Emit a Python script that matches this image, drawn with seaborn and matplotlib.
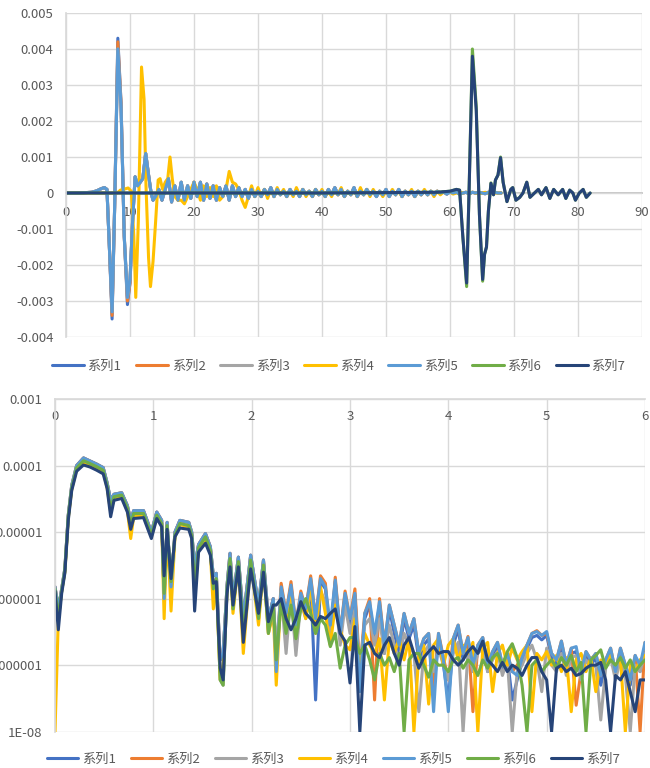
import numpy as np
import pandas as pd
import matplotlib
matplotlib.use('Agg')
import matplotlib.pyplot as plt
from matplotlib.lines import Line2D
from matplotlib.ticker import NullLocator
import seaborn as sns

# ─────────────────────────────────────────
# series names / Excel office colours
# ─────────────────────────────────────────
SERIES = ['系列1', '系列2', '系列3', '系列4', '系列5', '系列6', '系列7']
COLORS = ['#4472C4', '#ED7D31', '#A5A5A5', '#FFC000', '#5B9BD5', '#70AD47', '#264478']

# ─────────────────────────────────────────
# top chart: time signals
# ─────────────────────────────────────────
pulse_x = [0, 2, 4, 4.8, 5.5, 6.0, 6.4, 6.8, 7.2, 7.6, 8.1, 8.6, 9.1, 9.6, 10.0, 10.4,
           10.8, 11.2, 11.6, 12.0, 12.45, 12.9, 13.3, 13.6]
s1_pulse = [0, 0, 0.00002, 0.00006, 0.00012, 0.00015, 0.0001, -0.0016, -0.0035, -0.0004,
            0.0043, 0.0025, -0.0012, -0.0031, -0.0025, -0.0008, 0.00045, 0.0002, 0.0003,
            0.0004, 0.0011, 0.0005, 0.0, -0.0002]
s2_pulse = [0, 0, 0.00002, 0.00006, 0.00012, 0.00015, 0.0001, -0.0016, -0.0034, -0.0004,
            0.0042, 0.0025, -0.0012, -0.0030, -0.0025, -0.0008, 0.00045, 0.0002, 0.0003,
            0.0004, 0.0011, 0.0005, 0.0, -0.0002]
s3_pulse = [0, 0, 0.00002, 0.00006, 0.00012, 0.00015, 0.0001, -0.0016, -0.0033, -0.0004,
            0.0040, 0.0024, -0.0012, -0.0029, -0.0024, -0.0008, 0.00045, 0.0002, 0.0003,
            0.0004, 0.0011, 0.0005, 0.0, -0.0002]
s5_pulse = [0, 0, 0.00002, 0.00006, 0.00012, 0.00015, 0.0001, -0.0016, -0.0033, -0.0004,
            0.0040, 0.0024, -0.0012, -0.0029, -0.0024, -0.0008, 0.00045, 0.0002, 0.0003,
            0.0004, 0.0011, 0.0005, 0.0, -0.0002]
ripple_x = np.linspace(14, 68, 109)
ripple = [-0.0001, 0.0001, -0.0002, 0.0001, 0.0004, -0.00025, 0.0002, -0.0002, 0.0003, -0.0002,
          0.0002, -0.00015, 0.0003, -0.0001, 0.0003, -0.0002, 0.00025, -0.00015, 0.0002, -0.0002,
          0.00015, -0.0001, 0.0002, -0.0002, 0.0002, -0.0001, 0.00015, -0.0001, 0.0001, -0.00015,
          0.0001, -0.0001, 0.00005, -0.0001, 0.0001, -0.00005, 0.00015, -0.0001, 0.0001, -0.00005,
          0.00005, -0.0001, 0.0001, -0.00005, 0.00005, -0.0001, 0.0001, -0.00005, 0.00005, -0.0001,
          0.0001, -0.00005, 0.00005, -0.0001, 0.0001, -0.00005, 0.00015, -0.00005, 0.0001, -0.0001,
          0.00005, -0.00005, 0.00015, -0.0001, 0.00005, -0.00005, 0.0001, -0.00005, 0.00005, -0.0001,
          0.00005, -0.00005, 0.0001, -0.0001, 0.00005, -0.00005, 0.0001, -0.0001, 0.00005, -0.00005,
          0.00005, -0.0001, 0.00005, -0.00005, 0.00005, -0.00005, 0.00005, -0.00005, 0.00005, 0.0,
          0.00003, -0.00003, 0.00003, 0.0, 0.00003, -0.00003, 0.0, 0.00002, -0.00002, 0.00002,
          0.0, 0.00002, 0.0, -0.00002, 0.00002, 0.0, 0.00002, 0.0, 0.0]

s4_x = [0, 4, 8, 8.5, 9.0, 9.7, 10.2, 10.6, 10.9, 11.3, 11.8, 12.2, 12.5, 12.9, 13.2, 13.6,
        14.0, 14.4, 14.7, 15.1, 15.5, 15.9, 16.25, 16.6, 17.0, 17.5]
s4_pulse = [0, 0, 0, 0.00008, 0.0001, 0.00014, 0.00005, -0.0012, -0.0029, -0.0008, 0.0035,
            0.0026, 0.0002, -0.0018, -0.0026, -0.0019, -0.0008, 0.00036, 0.0004, 0.0001,
            0.0003, 0.0004, 0.001, 0.0004, -0.0001, -0.0002]
s4_ripple_x = np.linspace(18, 68, 101)
s4_ripple = [-0.0002, -0.0003, -0.0001, 0.0001, 0.0003, 0.0001, -0.0002, 0.0002, -0.0001, 0.00015,
             -0.0001, 0.0002, -0.0002, -0.0001, 0.0001, 0.0006, 0.0003, 0.00025, 0.0001, -0.0002,
             -0.0004, -0.0001, 0.0002, -0.0001, 0.00015, -0.0001, 0.0001, -0.00015, 0.0001, -0.0001,
             0.00015, -0.00005, 0.0001, -0.0001, 0.00005, -0.0001, 0.00015, -0.00005, 0.0001, -0.0001,
             0.00005, -0.0001, 0.0001, -0.00005, 0.0001, -0.0001, 0.00005, -0.0001, 0.0001, -0.00005,
             0.00015, -0.0001, 0.00005, -0.00005, 0.0001, -0.0001, 0.00015, -0.00005, 0.0001, -0.0001,
             0.0001, -0.00005, 0.00005, -0.0001, 0.00005, -0.00005, 0.0001, -0.00005, 0.00005, -0.0001,
             0.00005, -0.00005, 0.0001, -0.0001, 0.00005, -0.00005, 0.0001, -0.00005, 0.00005, -0.0001,
             0.00005, -0.00005, 0.00003, 0.0, 0.00003, -0.00003, 0.0, 0.00003, 0.0, 0.00002,
             0.0, 0.00002, 0.0, -0.00002, 0.0, 0.00002, 0.0, 0.00002, 0.0, 0.0,
             0.0]

late_x = [0, 20, 40, 58, 60, 61.0, 61.5, 62.0, 62.6, 63.0, 63.5, 64.1, 64.6, 65.1, 65.4, 65.7,
          66.0, 66.4, 66.8, 67.1, 67.5, 67.9, 68.3, 68.9]
s6_late = [0, 0, 0, 0.00002, 0.00005, 0.0001, 0.00008, -0.0012, -0.0026, 0.0002, 0.0040,
           0.0024, -0.0006, -0.00245, -0.0017, -0.0015, -0.0005, 0.00028, -0.00005, 0.00036,
           0.0005, 0.0010, 0.0003, -0.00024]
s7_late = [0, 0, 0, 0.00002, 0.00005, 0.0001, 0.00008, -0.0012, -0.0025, 0.0002, 0.0038,
           0.0023, -0.0006, -0.0024, -0.0017, -0.0015, -0.0005, 0.00027, -0.00005, 0.00036,
           0.0005, 0.00098, 0.0003, -0.00024]
late_tail_x = [69.5, 69.8, 70.3, 70.9, 71.4, 72.0, 72.5, 73.2, 73.8, 74.3, 75.0, 75.6, 76.2,
               76.9, 77.6, 78.1, 78.7, 79.2, 79.6, 80.2, 80.8, 81.3, 81.9]
late_tail = [0.0001, 0.00015, -0.0002, -0.00012, 0.0, 0.0003, -0.00012, 0.0, 0.0001, -0.00005,
             0.00015, -0.00015, 0.0001, -0.00005, 0.0001, -0.00015, 0.00008, 0.0, -0.0002, 0.0,
             0.0001, -0.00012, 0.0]

# ─────────────────────────────────────────
# bottom chart: spectra (log scale)
# ─────────────────────────────────────────
f_head = [0.0, 0.034, 0.068, 0.10, 0.135, 0.17, 0.22, 0.29, 0.356, 0.424, 0.49, 0.53, 0.566,
          0.60, 0.678, 0.736, 0.77, 0.80, 0.90, 0.98, 1.035, 1.085, 1.11, 1.14, 1.18, 1.22,
          1.27, 1.36, 1.39, 1.42, 1.46, 1.53, 1.58, 1.61, 1.64, 1.68, 1.71, 1.75, 1.78, 1.81,
          1.865, 1.915, 1.99, 2.07, 2.12, 2.17, 2.22]
head_hi = [1.5e-6, 7e-7, 1.4e-6, 2.8e-6, 1.8e-5, 5e-5, 1.0e-4, 1.3e-4, 1.17e-4, 1.05e-4, 9.3e-5,
           5.5e-5, 3.0e-5, 3.7e-5, 3.9e-5, 2.5e-5, 1.5e-5, 2.1e-5, 2.1e-5, 1.0e-5, 2.0e-5,
           1.5e-5, 1.0e-6, 1.4e-5, 1.5e-6, 1.0e-5, 1.5e-5, 1.4e-5, 1.0e-5, 3.0e-6, 6.5e-6,
           9.5e-6, 6.0e-6, 2.2e-6, 2.4e-6, 1.2e-7, 1.5e-7, 1.6e-6, 4.8e-6, 1.0e-6, 4.2e-6,
           5.0e-7, 4.5e-6, 8.0e-7, 3.8e-6, 5.0e-7, 1.0e-6]
head_mid = [1.4e-6, 5e-7, 1.3e-6, 2.6e-6, 1.7e-5, 4.6e-5, 9.2e-5, 1.18e-4, 1.07e-4, 9.6e-5,
            8.5e-5, 5e-5, 2.2e-5, 3.4e-5, 3.6e-5, 2.3e-5, 1.3e-5, 1.9e-5, 1.9e-5, 9e-6, 1.8e-5,
            1.35e-5, 1.2e-6, 1.25e-5, 1.8e-6, 9e-6, 1.35e-5, 1.25e-5, 9e-6, 1.5e-6, 5.8e-6,
            8.5e-6, 5.3e-6, 1.4e-6, 2.0e-6, 6e-8, 5e-8, 1.4e-6, 4.0e-6, 7e-7, 3.6e-6, 3e-7,
            3.8e-6, 5e-7, 3.2e-6, 3e-7, 8e-7]
head_yel = [1e-8, 5e-7, 1.3e-6, 2.5e-6, 1.6e-5, 4.4e-5, 8.8e-5, 1.12e-4, 1.02e-4, 9.2e-5,
            8.2e-5, 4.6e-5, 2.0e-5, 3.2e-5, 3.4e-5, 2.1e-5, 8e-6, 1.7e-5, 1.8e-5, 8.5e-6,
            1.7e-5, 1.3e-5, 5e-7, 1.2e-5, 6.5e-7, 8.5e-6, 1.3e-5, 1.2e-5, 8.5e-6, 1.2e-6,
            5.5e-6, 8e-6, 5e-6, 7e-7, 1.9e-6, 6e-8, 1e-7, 1.3e-6, 3.8e-6, 6e-7, 3.4e-6, 1.5e-7,
            3.6e-6, 4e-7, 3e-6, 3e-7, 6e-7]
head_navy = [1.3e-6, 3.4e-7, 1.2e-6, 2.4e-6, 1.5e-5, 4.2e-5, 8.2e-5, 1.02e-4, 9.5e-5, 8.5e-5,
             7.5e-5, 4.5e-5, 1.7e-5, 3.0e-5, 3.2e-5, 2.0e-5, 1.1e-5, 1.6e-5, 1.65e-5, 8.0e-6,
             1.6e-5, 1.2e-5, 2.2e-6, 1.1e-5, 2.0e-6, 8.5e-6, 1.15e-5, 1.1e-5, 8.0e-6, 6.5e-7,
             5.0e-6, 6.8e-6, 4.5e-6, 1.7e-6, 1.8e-6, 9.0e-8, 6.0e-8, 1.2e-6, 3.0e-6, 8.0e-7,
             3.0e-6, 2.2e-7, 2.8e-6, 6.0e-7, 2.5e-6, 4.5e-7, 8.0e-7]

f_tail = np.linspace(2.25, 6.0, 76)
s1_tail = [1e-7, 1.4e-6, 5e-7, 1.5e-6, 3e-7, 1.1e-6, 6e-7, 1.8e-6, 3e-8, 1.8e-6,
           1.4e-6, 3e-7, 1.8e-6, 2.5e-7, 1.1e-6, 4e-7, 1.1e-6, 6e-8, 5e-7, 8e-7,
           2.5e-7, 8e-7, 1.5e-7, 7e-7, 3e-7, 1.5e-7, 5e-7, 2.5e-7, 4e-7, 1.2e-7,
           2e-7, 2.5e-7, 4e-8, 2.5e-7, 1e-7, 3e-8, 2e-7, 3.5e-7, 1.2e-7, 2.2e-7,
           8e-8, 1.7e-7, 2.2e-7, 8e-8, 1.4e-7, 1.9e-7, 8e-8, 1.3e-7, 3e-8, 6e-8,
           1.1e-7, 1.8e-7, 2.6e-7, 2.8e-7, 2.4e-7, 2.8e-7, 1.3e-7, 1e-7, 2e-7, 8e-8,
           1.5e-7, 1.6e-7, 6e-8, 1.4e-7, 1e-7, 1.3e-7, 5e-8, 1e-7, 1.5e-7, 7e-8,
           1.5e-7, 8e-8, 5e-8, 1.2e-7, 8e-8, 2e-7]
s2_tail = [1e-7, 1.7e-6, 6e-7, 1.8e-6, 4e-7, 1.3e-6, 7e-7, 2.2e-6, 5e-7, 2.2e-6,
           1.7e-6, 2e-7, 2.1e-6, 3e-7, 1.3e-6, 5e-7, 1.4e-6, 8e-8, 6e-7, 1e-6,
           3e-8, 1e-6, 2e-7, 8e-7, 4e-7, 2e-7, 6e-7, 3e-7, 5e-7, 1.5e-7,
           2.5e-7, 3e-7, 5e-8, 3e-7, 1.3e-7, 6e-8, 2.5e-7, 4e-7, 1.5e-7, 2.7e-7,
           2e-8, 2e-7, 2.6e-7, 1e-7, 1.6e-7, 2.2e-7, 1e-7, 1.5e-7, 8e-8, 1e-7,
           1.3e-7, 2e-7, 3e-7, 3.3e-7, 2.8e-7, 3e-7, 1.5e-7, 1.2e-7, 2.3e-7, 1e-7,
           1.8e-7, 2.5e-8, 8e-8, 1.6e-7, 1.2e-7, 1.5e-7, 7e-8, 1.2e-7, 1.8e-7, 8e-8,
           1.8e-7, 1e-7, 6e-8, 1.4e-7, 1e-8, 2.2e-7]
s3_tail = [2e-7, 1.2e-6, 1.5e-7, 1.2e-6, 1.4e-7, 9e-7, 5e-7, 1.4e-6, 4e-7, 1.3e-6,
           9e-7, 3e-7, 1.2e-6, 2e-7, 8e-7, 3e-7, 7e-7, 1e-7, 4e-7, 5e-7,
           2e-7, 5e-7, 1.5e-7, 4e-7, 2e-7, 1.2e-7, 3e-7, 2e-7, 1.5e-7, 2e-8,
           1.5e-7, 2e-7, 8e-8, 1.8e-7, 1e-7, 6e-8, 1.5e-7, 2.2e-7, 1e-8, 1.6e-7,
           8e-8, 1.5e-7, 1.8e-7, 8e-8, 1.2e-7, 1.6e-7, 7e-8, 1.2e-7, 1e-8, 8e-8,
           1e-7, 1.5e-7, 2e-7, 1.2e-7, 4e-8, 1.8e-7, 1e-7, 8e-8, 1.5e-7, 7e-8,
           1.3e-7, 1.4e-7, 6e-8, 1.2e-7, 9e-8, 1e-7, 1.5e-8, 9e-8, 1.3e-7, 6e-8,
           1.2e-7, 7e-8, 1e-8, 1e-7, 8e-8, 1.5e-7]
s4_tail = [5e-8, 1.3e-6, 4e-7, 1.4e-6, 3e-7, 1.0e-6, 5e-7, 1.6e-6, 3e-7, 1.5e-6,
           6e-7, 2e-7, 8e-7, 3.4e-7, 2e-7, 1.7e-7, 5e-7, 1e-7, 3e-7, 2e-7,
           1.5e-7, 2.5e-7, 3e-8, 2.5e-7, 1.5e-7, 2.5e-7, 1.2e-7, 2.5e-7, 1e-8, 1.5e-7,
           2e-7, 2.6e-8, 2e-7, 2.5e-7, 1e-7, 2e-7, 2.5e-7, 1.2e-7, 2e-7, 1.5e-7,
           2.2e-7, 1e-8, 1.8e-7, 2.2e-7, 4e-8, 1.5e-7, 2e-7, 1e-7, 1.8e-7, 1.2e-7,
           1.6e-7, 2e-7, 2e-8, 1.5e-7, 1.2e-7, 1.6e-7, 1e-7, 1.4e-7, 8e-8, 1.3e-7,
           2e-8, 1.2e-7, 1.5e-7, 8e-8, 1.3e-7, 4e-8, 1.2e-7, 1e-7, 1.4e-7, 9e-8,
           1.3e-7, 1e-8, 1e-7, 8e-8, 1.2e-7, 1.4e-7]
s5_tail = [8e-8, 1.5e-6, 6e-7, 1.6e-6, 4e-7, 1.2e-6, 7e-7, 2e-6, 5e-7, 2e-6,
           1.5e-6, 4e-7, 1.9e-6, 3e-7, 1.2e-6, 5e-7, 1.2e-6, 4e-8, 6e-7, 9e-7,
           3e-7, 9e-7, 2e-7, 8e-7, 4e-7, 2e-7, 6e-7, 3e-7, 5e-7, 1.5e-7,
           2.5e-7, 3e-7, 2e-8, 3e-7, 1.2e-7, 2e-8, 2.5e-7, 4e-7, 1.5e-7, 2.6e-7,
           1e-7, 2e-7, 2.6e-7, 1e-7, 1.6e-7, 2.2e-7, 1e-7, 1.5e-7, 8e-8, 7e-8,
           1.3e-7, 2e-7, 3e-7, 3.2e-7, 2.8e-7, 3.2e-7, 1.5e-7, 1.2e-7, 2.3e-7, 1e-7,
           1.8e-7, 1.9e-7, 8e-8, 1.6e-7, 1.2e-7, 1.5e-7, 7e-8, 1.2e-7, 1.8e-7, 8e-8,
           1.8e-7, 1e-7, 6e-8, 1.4e-7, 1e-7, 2.2e-7]
s6_tail = [1.2e-7, 9e-7, 3e-7, 8e-7, 2.5e-7, 7e-7, 1e-6, 6e-7, 3e-7, 5e-7,
           4e-7, 1.9e-7, 3e-7, 9e-8, 2e-7, 2.6e-7, 2.6e-7, 1.5e-7, 2e-7, 1.2e-7,
           6e-8, 1.5e-7, 1e-7, 1.3e-7, 8e-8, 1.5e-7, 1e-8, 1.2e-7, 1.5e-7, 1.5e-7,
           1e-7, 6.6e-8, 1.2e-7, 1e-7, 1e-7, 8e-8, 1.2e-7, 1.3e-7, 9e-8, 1.2e-7,
           1e-7, 7e-8, 1.2e-7, 9e-8, 1.3e-7, 1.5e-7, 1e-7, 1.6e-7, 2.1e-7, 1.3e-7,
           5e-8, 1e-8, 1e-7, 1.2e-7, 8e-8, 1e-7, 1.2e-7, 9e-8, 1.3e-7, 1e-7,
           1.4e-7, 8e-8, 1.1e-7, 1e-8, 1.2e-7, 1.4e-7, 1.7e-7, 9e-8, 1.2e-7, 1e-7,
           1.3e-7, 9e-8, 1.2e-7, 8e-8, 1e-7, 1.2e-7]
s7_tail = [8e-7, 1e-6, 5e-7, 3.4e-7, 5e-7, 9e-7, 6e-7, 5e-7, 4e-7, 5.4e-7,
           5e-7, 6e-7, 7e-7, 3e-7, 2.3e-7, 5.4e-8, 3.8e-7, 1e-8, 2e-7, 2.2e-7,
           1.5e-7, 1.3e-7, 2e-7, 2.6e-7, 1.5e-7, 1e-7, 2e-7, 2.6e-7, 1.5e-7, 9e-8,
           1.3e-7, 1.6e-7, 1.9e-7, 1.5e-7, 1.6e-7, 1.6e-7, 1.2e-7, 1e-7, 1.2e-7, 1.6e-7,
           1.9e-7, 1.5e-7, 2.3e-7, 1.2e-7, 1e-7, 8e-8, 1.1e-7, 8e-8, 1e-7, 9e-8,
           7e-8, 1e-7, 1.3e-7, 1.3e-7, 8e-8, 6e-8, 1e-8, 9e-8, 1e-7, 8e-8,
           9e-8, 7e-8, 7.5e-8, 9e-8, 1e-7, 1e-7, 1.1e-7, 6e-8, 1e-8, 7e-8,
           6e-8, 8e-8, 4e-8, 2e-8, 6e-8, 6e-8]

# axis ticks
top_xticks = [0, 10, 20, 30, 40, 50, 60, 70, 80, 90]
top_yticks = [-0.004, -0.003, -0.002, -0.001, 0, 0.001, 0.002, 0.003, 0.004, 0.005]
top_ylabels = ['-0.004', '-0.003', '-0.002', '-0.001', '0', '0.001', '0.002', '0.003', '0.004', '0.005']
bot_xticks = [0, 1, 2, 3, 4, 5, 6]
bot_yticks = [1e-8, 1e-7, 1e-6, 1e-5, 1e-4, 1e-3]
bot_ylabels = ['1E-08', '0.0000001', '0.000001', '0.00001', '0.0001', '0.001']


def long_frame(parts):
    frames = [pd.DataFrame({'x': list(x), 'y': list(y), 'series': name}) for name, x, y in parts]
    return pd.concat(frames, ignore_index=True)


top_df = long_frame([
    ('系列1', pulse_x + list(ripple_x), s1_pulse + ripple),
    ('系列2', pulse_x + list(ripple_x), s2_pulse + ripple),
    ('系列3', pulse_x + list(ripple_x), s3_pulse + ripple),
    ('系列4', s4_x + list(s4_ripple_x), s4_pulse + s4_ripple),
    ('系列5', pulse_x + list(ripple_x), s5_pulse + ripple),
    ('系列6', late_x + late_tail_x, s6_late + late_tail),
    ('系列7', late_x + late_tail_x, s7_late + late_tail),
])

bot_df = long_frame([
    ('系列1', f_head + list(f_tail), head_hi + s1_tail),
    ('系列2', f_head + list(f_tail), head_hi + s2_tail),
    ('系列3', f_head + list(f_tail), head_mid + s3_tail),
    ('系列4', f_head + list(f_tail), head_yel + s4_tail),
    ('系列5', f_head + list(f_tail), head_hi + s5_tail),
    ('系列6', f_head + list(f_tail), head_mid + s6_tail),
    ('系列7', f_head + list(f_tail), head_navy + s7_tail),
])

# ─────────────────────────────────────────
# style
# ─────────────────────────────────────────
sns.set_theme(style='whitegrid')
plt.rcParams['font.family'] = ['Noto Sans CJK SC', 'DejaVu Sans']
GRID = '#D9D9D9'
TEXT = '#595959'
LW = 2.2

fig = plt.figure(figsize=(6.5, 7.68), dpi=100, facecolor='white')
ax1 = fig.add_axes([66 / 650, 1 - 337 / 768, 576 / 650, 324 / 768])
ax2 = fig.add_axes([55 / 650, 1 - 731.7 / 768, 590 / 650, 332.7 / 768])

for ax, df in ((ax1, top_df), (ax2, bot_df)):
    sns.lineplot(data=df, x='x', y='y', hue='series', hue_order=SERIES, palette=COLORS,
                 estimator=None, sort=False, linewidth=LW, legend=False, ax=ax)
    ax.set_facecolor('white')
    ax.grid(True, color=GRID, linewidth=1.0)
    ax.set_axisbelow(True)
    ax.set_xlabel('')
    ax.set_ylabel('')
    ax.tick_params(length=0, labelsize=9.5, labelcolor=TEXT)
    for s in ax.spines.values():
        s.set_visible(False)
    ax.spines['left'].set_visible(True)
    ax.spines['left'].set_color(GRID)

# ── top: time signals
ax1.set_xlim(0, 90)
ax1.set_ylim(-0.004, 0.005)
ax1.set_xticks(top_xticks)
ax1.set_xticklabels([str(t) for t in top_xticks])
ax1.set_yticks(top_yticks)
ax1.set_yticklabels(top_ylabels)
ax1.spines['bottom'].set_visible(True)
ax1.spines['bottom'].set_position(('data', 0))
ax1.spines['bottom'].set_color('#BFBFBF')
ax1.spines['bottom'].set_zorder(0.5)
ax1.tick_params(axis='x', pad=9)
ax1.tick_params(axis='y', pad=9)

# ── bottom: spectra
ax2.set_yscale('log')
ax2.set_xlim(0, 6)
ax2.set_ylim(1e-8, 1e-3)
ax2.set_xticks(bot_xticks)
ax2.set_xticklabels([str(t) for t in bot_xticks])
ax2.set_yticks(bot_yticks)
ax2.set_yticklabels(bot_ylabels)
ax2.yaxis.set_minor_locator(NullLocator())
ax2.spines['top'].set_visible(True)
ax2.spines['top'].set_color(GRID)
ax2.tick_params(axis='x', labeltop=True, labelbottom=False, pad=-17)
ax2.tick_params(axis='y', pad=9)

# ── legends
handles = [Line2D([], [], color=c, linewidth=LW) for c in COLORS]
for ypos, xpos in ((1 - 366 / 768, 0.521), (1 - 759 / 768, 0.513)):
    fig.legend(handles, SERIES, loc='center', bbox_to_anchor=(xpos, ypos), ncol=7,
               frameon=False, fontsize=9.5, handlelength=2.4, handletextpad=0.3,
               columnspacing=1.1, labelcolor=TEXT)

fig.savefig('out.png', dpi=100, facecolor='white')
